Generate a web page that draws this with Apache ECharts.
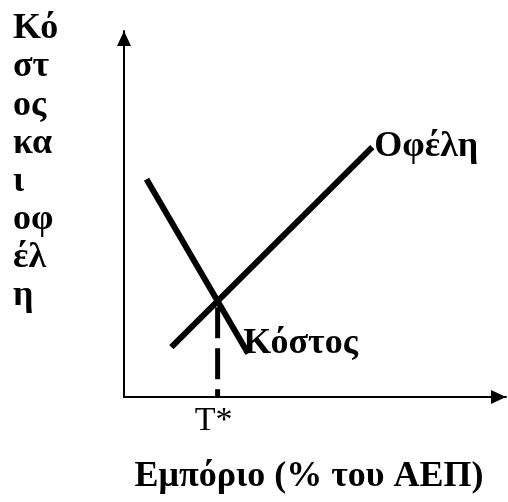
<!DOCTYPE html>
<html>
<head>
<meta charset="utf-8">
<script src="https://cdn.jsdelivr.net/npm/echarts@6/dist/echarts.min.js"></script>
<style>
  html, body { margin: 0; padding: 0; background: #fff; }
  #chart { width: 508px; height: 502px; }
</style>
</head>
<body>
<div id="chart"></div>
<script>
// Benefit and cost curves against trade (% of GDP)
const benefitPoints = [[12.4, 13.6], [65.0, 68.3]];
const costPoints = [[5.9, 59.5], [32.5, 11.9]];
const benefitName = 'Οφέλη';
const costName = 'Κόστος';
const equilibriumLabel = 'T*';
const xTitle = 'Εμπόριο (% του ΑΕΠ)';
const yTitleLines = ['Κό', 'στ', 'ος', 'κα', 'ι', 'οφ', 'έλ', 'η'];

// Crossing point of the two straight segments
function crossing(a, b) {
  const sa = (a[1][1] - a[0][1]) / (a[1][0] - a[0][0]);
  const sb = (b[1][1] - b[0][1]) / (b[1][0] - b[0][0]);
  const x = (b[0][1] - a[0][1] + sa * a[0][0] - sb * b[0][0]) / (sa - sb);
  return [x, a[0][1] + sa * (x - a[0][0])];
}
const eq = crossing(benefitPoints, costPoints);

const serif = "'Liberation Serif', 'Times New Roman', serif";
const chart = echarts.init(document.getElementById('chart'));

// Filled triangular arrowheads whose tips sit on the axis ends
const axisArrow = {
  show: true,
  lineStyle: { color: '#000', width: 2 },
  symbol: ['none', 'triangle'],
  symbolSize: [14, 15],
  symbolOffset: [0, -7.5]
};

chart.setOption({
  animation: false,
  grid: { left: 124, right: 2, top: 31, bottom: 105, outerBoundsMode: 'none', containLabel: false },
  xAxis: {
    type: 'value', min: 0, max: 100,
    axisLine: axisArrow,
    axisTick: { show: false }, axisLabel: { show: false }, splitLine: { show: false },
    name: xTitle, nameLocation: 'middle', nameGap: 62,
    nameTextStyle: { fontFamily: serif, fontWeight: 'bold', fontSize: 36, color: '#000', padding: [0, 12, 0, 0] }
  },
  yAxis: {
    type: 'value', min: 0, max: 100,
    axisLine: axisArrow,
    axisTick: { show: false }, axisLabel: { show: false }, splitLine: { show: false }
  },
  graphic: [{
    type: 'text', left: 13, top: 10,
    style: {
      text: yTitleLines.join('\n'), font: 'bold 36px ' + serif,
      lineHeight: 38.1, fill: '#000'
    }
  }],
  series: [
    {
      name: benefitName, type: 'line', data: benefitPoints,
      symbol: 'none', lineStyle: { color: '#000', width: 6 },
      endLabel: { show: true, formatter: benefitName, distance: 2, fontFamily: serif, fontWeight: 'bold', fontSize: 36, color: '#000' }
    },
    {
      name: costName, type: 'line', data: costPoints,
      symbol: 'none', lineStyle: { color: '#000', width: 6 },
      endLabel: { show: true, formatter: costName, distance: 0, offset: [-5, -10], fontFamily: serif, fontWeight: 'bold', fontSize: 36, color: '#000' }
    },
    {
      type: 'line',
      data: [eq, { value: [eq[0], 0], label: { show: true, position: 'bottom', distance: 7, offset: [-4, 0], formatter: equilibriumLabel, fontFamily: serif, fontSize: 34, color: '#000' } }],
      symbol: 'circle', symbolSize: 0.1, showSymbol: true,
      itemStyle: { color: '#000' },
      lineStyle: { color: '#000', width: 5, type: [31, 10], dashOffset: 35 },
      z: 1
    }
  ]
});
</script>
</body>
</html>
